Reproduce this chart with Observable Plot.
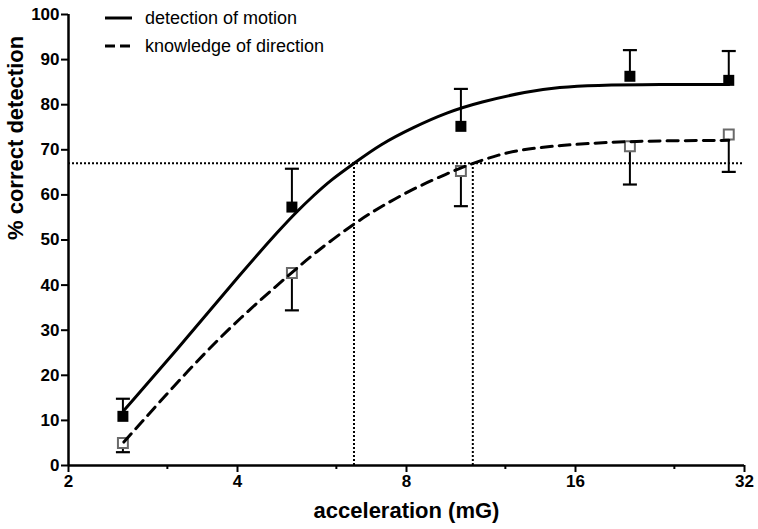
<!DOCTYPE html>
<html><head><meta charset="utf-8">
<script src="https://cdn.jsdelivr.net/npm/d3@7"></script>
<script src="https://cdn.jsdelivr.net/npm/@observablehq/plot@0.6"></script>
<style>
body{margin:0;background:#fff;}
#wrap{position:relative;width:758px;height:529px;font-family:"Liberation Sans",Arial,sans-serif;}
.lg{position:absolute;left:105px;height:20px;display:flex;align-items:center;font-size:18px;color:#000;white-space:nowrap;}
.lg svg{margin-right:13px;}
</style></head><body><div id="wrap"></div>
<script>
// measured data points
const accel = [2.5, 5, 10, 20, 30];
const motionPct = [10.9, 57.3, 75.2, 86.3, 85.4];
const motionErrTop = [14.8, 65.8, 83.5, 92.1, 91.9];
const directionPct = [5.0, 42.7, 65.3, 70.8, 73.4];
const directionErrBottom = [2.95, 34.4, 57.5, 62.3, 65.1];

// fitted curves
const motionFitX = [2.51, 3.30, 4.05, 4.77, 5.11, 5.47, 5.85, 6.45, 7.18, 8.23, 9.44, 10.82, 13.1, 15.0, 17.2, 22.6, 30];
const motionFitY = [12.2, 29.2, 42.5, 52.5, 56.4, 59.9, 63.2, 67.0, 71.2, 75.0, 78.3, 80.6, 82.9, 83.9, 84.3, 84.5, 84.5];
const directionFitX = [2.51, 3.30, 4.05, 4.97, 5.47, 6.44, 7.18, 8.23, 9.44, 10.42, 11.74, 12.75, 15.0, 18.4, 22.6, 30];
const directionFitY = [5.2, 21.8, 32.9, 42.5, 47.0, 53.6, 57.3, 61.4, 64.7, 66.9, 69.0, 70.0, 71.0, 71.7, 72.0, 72.1];

// 67% threshold and its crossings
const thresholdPct = 67;
const thresholdAccel = [6.45, 10.5];

const xTicks = [2, 4, 8, 16, 32];
const xMinorTicks = [3, 6, 12, 24];
const yTicks = [0, 10, 20, 30, 40, 50, 60, 70, 80, 90, 100];
const xLabel = "acceleration (mG)";
const yLabel = "% correct detection";
const legendLabels = ["detection of motion", "knowledge of direction"];
const legendDash = ["none", "10,5"];

const motionRows = accel.map((a, i) => ({a, y: motionPct[i], e: motionErrTop[i]}));
const directionRows = accel.map((a, i) => ({a, y: directionPct[i], e: directionErrBottom[i]}));
const motionFit = motionFitX.map((a, i) => ({a, y: motionFitY[i]}));
const directionFit = directionFitX.map((a, i) => ({a, y: directionFitY[i]}));

const cap = {draw(ctx) { ctx.moveTo(-7, 0); ctx.lineTo(7, 0); }};
const font = "Liberation Sans, Arial, sans-serif";

const chart = Plot.plot({
  width: 758, height: 529,
  marginTop: 14, marginRight: 14, marginBottom: 64, marginLeft: 68,
  style: {fontFamily: font, fontWeight: "bold", background: "white"},
  x: {type: "log", base: 2, domain: [2, 32]},
  y: {domain: [0, 100]},
  marks: [
    Plot.ruleY([thresholdPct], {stroke: "black", strokeWidth: 2, strokeDasharray: "2,2"}),
    Plot.ruleX(thresholdAccel, {x: d => d, y1: 0, y2: thresholdPct, stroke: "black", strokeWidth: 2, strokeDasharray: "2,2"}),
    // error bars
    Plot.ruleX(motionRows, {x: "a", y1: "y", y2: "e", stroke: "black", strokeWidth: 2}),
    Plot.dot(motionRows, {x: "a", y: "e", symbol: cap, stroke: "black", strokeWidth: 2.2}),
    Plot.ruleX(directionRows, {x: "a", y1: "y", y2: "e", stroke: "black", strokeWidth: 2}),
    Plot.dot(directionRows, {x: "a", y: "e", symbol: cap, stroke: "black", strokeWidth: 2.2}),
    // open squares
    Plot.dot(directionRows, {x: "a", y: "y", symbol: "square", r: 5.6, fill: "white", stroke: "#6a6a6a", strokeWidth: 2}),
    // curves
    Plot.line(directionFit, {x: "a", y: "y", curve: "basis", stroke: "black", strokeWidth: 3, strokeDasharray: "11,7"}),
    Plot.line(motionFit, {x: "a", y: "y", curve: "basis", stroke: "black", strokeWidth: 3}),
    // filled squares
    Plot.dot(motionRows, {x: "a", y: "y", symbol: "square", r: 6.2, fill: "black", stroke: "none"}),
    // axes
    Plot.ruleY([0], {stroke: "black", strokeWidth: 2.5}),
    Plot.ruleX([2], {stroke: "black", strokeWidth: 2.5}),
    Plot.axisX({ticks: xTicks, tickSize: 7, tickPadding: 2, strokeWidth: 2, fontSize: 17, fontWeight: "bold", tickFormat: d => String(d), label: null}),
    Plot.axisX({ticks: xMinorTicks, tickSize: 4, strokeWidth: 2, tickFormat: () => "", label: null}),
    Plot.axisY({ticks: yTicks, tickSize: 7, tickPadding: 2, strokeWidth: 2, fontSize: 17, fontWeight: "bold", label: null}),
    Plot.text([xLabel], {text: d => d, frameAnchor: "bottom", lineAnchor: "middle", dy: 45, fontSize: 22, fontWeight: "bold"}),
    Plot.text([yLabel], {text: d => d, frameAnchor: "left", lineAnchor: "middle", rotate: -90, dx: -53, fontSize: 22, fontWeight: "bold"})
  ]
});
const wrap = document.getElementById("wrap");
wrap.appendChild(chart);

legendLabels.forEach((lab, i) => {
  const row = document.createElement("div");
  row.className = "lg";
  row.style.top = (8 + i * 28.4) + "px";
  row.innerHTML = `<svg width="27" height="6"><line x1="0" y1="3" x2="27" y2="3" stroke="black" stroke-width="3" stroke-dasharray="${legendDash[i]}"/></svg><span>${lab}</span>`;
  wrap.appendChild(row);
});
</script>
</body></html>
